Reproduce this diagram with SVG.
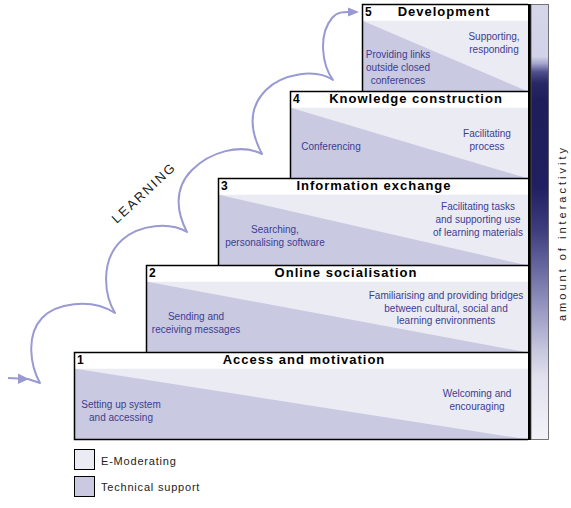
<svg xmlns="http://www.w3.org/2000/svg" width="571" height="508" viewBox="0 0 571 508">
<defs>
<style>
.emod{fill:#ebebf4}
.tech{fill:#c9c9e2}
.edge{fill:none;stroke:#000;stroke-width:1.5}
.num{font-family:"Liberation Sans",Arial,sans-serif;font-size:12px;font-weight:bold;fill:#000}
.title{font-family:"Liberation Sans",Arial,sans-serif;font-size:13px;font-weight:bold;fill:#000;letter-spacing:1px;text-anchor:middle}
.body{font-family:"Liberation Sans",Arial,sans-serif;font-size:10px;fill:#3d3d8f;text-anchor:middle}
.leg{font-family:"Liberation Sans",Arial,sans-serif;font-size:11px;fill:#222;letter-spacing:0.8px}
.curve{fill:none;stroke:#9a9ad2;stroke-width:2;stroke-linejoin:round}
.head{fill:#9a9ad2}
</style>
<linearGradient id="inter" x1="0" y1="0" x2="0" y2="1">
<stop offset="0" stop-color="#d6d6ea"/>
<stop offset="0.12" stop-color="#d2d2e8"/>
<stop offset="0.135" stop-color="#a8a8d0"/>
<stop offset="0.155" stop-color="#50508e"/>
<stop offset="0.18" stop-color="#282864"/>
<stop offset="0.22" stop-color="#1e1e5a"/>
<stop offset="0.42" stop-color="#202060"/>
<stop offset="0.52" stop-color="#3e3e7e"/>
<stop offset="0.61" stop-color="#6a6aa2"/>
<stop offset="0.70" stop-color="#9898c2"/>
<stop offset="0.79" stop-color="#c4c4dc"/>
<stop offset="0.86" stop-color="#e2e2ef"/>
<stop offset="1" stop-color="#f2f2f8"/>
</linearGradient>
</defs>
<rect width="571" height="508" fill="#fff"/>

<g id="connectors">
<path class="curve" d="M8,378 L28,379 L40,383 C30,365 26,335 42,318 C55,304 90,297 115,313 C104,295 100,260 122,240 C140,224 170,222 187,232 C178,215 172,190 192,170 C210,152 240,143 262,154 C252,135 246,110 266,90 C282,74 315,68 333,80 C322,65 318,35 332,18 C338,11 345,12 352,12"/>
<polygon class="head" points="18,373.5 29,379 18,384"/>
<polygon class="head" points="348,7.5 359,12 348,16.5"/>
</g>

<g id="learning-label">
<text transform="translate(147,196) rotate(-43)" font-family="Liberation Sans, Arial, sans-serif" font-size="13" fill="#222" letter-spacing="2" text-anchor="middle">LEARNING</text>
</g>

<g id="step5">
<rect class="emod" x="362" y="20.5" width="166" height="71"/>
<polygon class="tech" points="362,20.5 362,91.5 528,91.5"/>
<rect x="362" y="4.5" width="166" height="16" fill="#fff"/>
<path class="edge" d="M528,4.5 H362.5 V91.5"/>
<text class="num" x="365" y="16">5</text>
<text class="title" x="444" y="16">Development</text>
<text class="body" x="398" y="57.5">Providing links</text>
<text class="body" x="398" y="70.5">outside closed</text>
<text class="body" x="398" y="83.5">conferences</text>
<text class="body" x="494" y="40">Supporting,</text>
<text class="body" x="494" y="53">responding</text>
</g>

<g id="step4">
<rect class="emod" x="290" y="107.5" width="238" height="71"/>
<polygon class="tech" points="290,107.5 290,178.5 528,178.5"/>
<rect x="290" y="91.5" width="238" height="16" fill="#fff"/>
<path class="edge" d="M528,91.5 H290.5 V178.5"/>
<text class="num" x="293" y="103">4</text>
<text class="title" x="416" y="103">Knowledge construction</text>
<text class="body" x="331" y="150">Conferencing</text>
<text class="body" x="487" y="137">Facilitating</text>
<text class="body" x="487" y="149.5">process</text>
</g>

<g id="step3">
<rect class="emod" x="218" y="194.5" width="310" height="71"/>
<polygon class="tech" points="218,194.5 218,265.5 528,265.5"/>
<rect x="218" y="178.5" width="310" height="16" fill="#fff"/>
<path class="edge" d="M528,178.5 H218.5 V265.5"/>
<text class="num" x="221" y="190">3</text>
<text class="title" x="374" y="190">Information exchange</text>
<text class="body" x="275" y="233">Searching,</text>
<text class="body" x="275" y="245.5">personalising software</text>
<text class="body" x="478" y="210">Facilitating tasks</text>
<text class="body" x="478" y="223">and supporting use</text>
<text class="body" x="478" y="236">of learning materials</text>
</g>

<g id="step2">
<rect class="emod" x="146" y="281.5" width="382" height="71"/>
<polygon class="tech" points="146,281.5 146,352.5 528,352.5"/>
<rect x="146" y="265.5" width="382" height="16" fill="#fff"/>
<path class="edge" d="M528,265.5 H146.5 V352.5"/>
<text class="num" x="149" y="277">2</text>
<text class="title" x="346" y="277">Online socialisation</text>
<text class="body" x="196" y="320">Sending and</text>
<text class="body" x="196" y="332.5">receiving messages</text>
<text class="body" x="446" y="299">Familiarising and providing bridges</text>
<text class="body" x="446" y="311.5">between cultural, social and</text>
<text class="body" x="446" y="324">learning environments</text>
</g>

<g id="step1">
<rect class="emod" x="74" y="368.5" width="454" height="71"/>
<polygon class="tech" points="74,368.5 74,439.5 528,439.5"/>
<rect x="74" y="352.5" width="454" height="16" fill="#fff"/>
<path class="edge" d="M528,352.5 H74.5 V439.5 H528"/>
<text class="num" x="77" y="364">1</text>
<text class="title" x="304" y="364">Access and motivation</text>
<text class="body" x="121" y="408">Setting up system</text>
<text class="body" x="121" y="420.5">and accessing</text>
<text class="body" x="477" y="397">Welcoming and</text>
<text class="body" x="477" y="409.5">encouraging</text>
</g>

<g id="interactivity">
<rect x="528" y="4" width="3" height="436" fill="#000"/>
<rect x="531" y="4.5" width="17.5" height="435" fill="url(#inter)" stroke="#555" stroke-width="0.8"/>
<text transform="translate(566,233) rotate(-90)" font-family="Liberation Sans, Arial, sans-serif" font-size="11" fill="#222" letter-spacing="3" text-anchor="middle">amount of interactivity</text>
</g>

<g id="legend">
<rect x="74.5" y="449.5" width="20" height="20" class="emod" stroke="#000" stroke-width="1"/>
<text class="leg" x="101" y="465">E-Moderating</text>
<rect x="74.5" y="476.5" width="20" height="20" class="tech" stroke="#000" stroke-width="1"/>
<text class="leg" x="101" y="490.5">Technical support</text>
</g>
</svg>
